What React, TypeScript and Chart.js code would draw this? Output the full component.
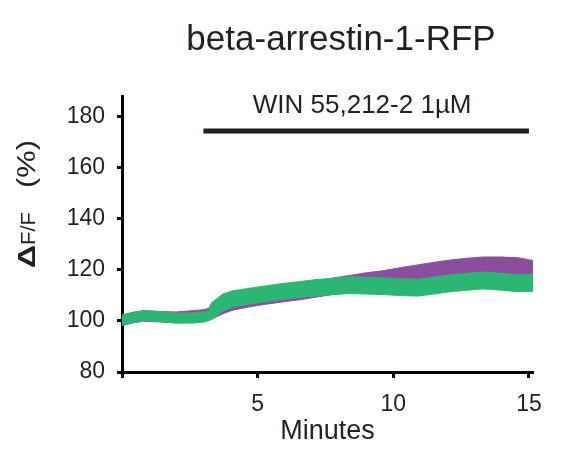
import React, { useEffect, useRef } from "react";
import { Chart, registerables } from "chart.js";

Chart.register(...registerables);

// ---- data (minutes, ΔF/F %) ----
const times = [0, 0.4, 0.8, 1.4, 2.0, 2.5, 3.0, 3.2, 3.3, 3.5, 3.7, 4.05, 4.65, 5.3, 5.9, 6.5, 7.1, 7.8, 8.4, 9.0, 9.6, 10.3, 10.9, 11.5, 12.1, 12.7, 13.3, 14.0, 14.6, 15.15];

const purpleMean = [100.1, 101.2, 101.9, 101.6, 101.5, 101.9, 102.4, 102.9, 103.6, 104.8, 105.8, 107.2, 108.5, 109.6, 110.5, 111.3, 112.3, 113.6, 114.6, 115.6, 116.4, 117.6, 118.6, 119.6, 120.5, 121.2, 121.7, 121.7, 121.4, 120.3];
const purpleSem = [2.0, 2.0, 2.0, 2.0, 2.0, 2.0, 2.0, 2.0, 3.0, 3.1, 3.1, 3.1, 3.1, 3.1, 3.1, 3.1, 3.1, 3.2, 3.2, 3.2, 3.2, 3.3, 3.3, 3.3, 3.3, 3.3, 3.3, 3.3, 3.3, 3.3];

const greenMean = [100.3, 101.4, 102.1, 101.7, 101.1, 101.1, 101.5, 102.1, 103.8, 105.4, 107.1, 108.5, 109.6, 110.6, 111.5, 112.2, 112.9, 113.5, 114.0, 113.8, 113.6, 113.2, 113.0, 113.8, 114.7, 115.3, 115.8, 115.3, 114.7, 114.9];
const greenSem = [2.0, 2.0, 2.0, 2.0, 2.0, 2.0, 2.0, 2.0, 3.3, 3.3, 3.3, 3.2, 3.1, 3.1, 3.1, 3.1, 3.2, 3.2, 3.3, 3.3, 3.3, 3.3, 3.3, 3.3, 3.3, 3.3, 3.3, 3.3, 3.3, 3.3];

const xTicks = [0, 5, 10, 15];
const yTicks = [80, 100, 120, 140, 160, 180];

const drugStart = 3;
const drugEnd = 15;
const drugLevel = 174.3;
const drugLabel = "WIN 55,212-2 1µM";
const chartTitle = "beta-arrestin-1-RFP";

const PURPLE = "#8B4E9D";
const GREEN = "#2BB673";
const INK = "#231F20";
const FONT = "'Liberation Sans', Arial, Helvetica, sans-serif";

function pts(mean: number[], sem: number[], sign: number) {
  return times.map((t, i) => ({ x: t, y: mean[i] + sign * sem[i] }));
}

function drawFit(ctx: CanvasRenderingContext2D, text: string, font: string, start: number, len: number) {
  ctx.font = font;
  const w = ctx.measureText(text).width;
  ctx.save();
  ctx.translate(start, 0);
  ctx.scale(len / w, 1);
  ctx.fillText(text, 0, 0);
  ctx.restore();
}

const annotate = {
  id: "annotate",
  afterDraw(chart: any) {
    const { ctx, scales } = chart;
    const x = scales.x;
    const y = scales.y;
    ctx.save();
    ctx.fillStyle = INK;

    // title
    ctx.font = `35px ${FONT}`;
    ctx.textAlign = "center";
    ctx.textBaseline = "alphabetic";
    ctx.fillText(chartTitle, 341, 50);

    // drug bar
    const x0 = x.getPixelForValue(drugStart);
    const x1 = x.getPixelForValue(drugEnd);
    const yb = y.getPixelForValue(drugLevel);
    ctx.fillRect(x0, yb - 2.5, x1 - x0, 5);

    ctx.font = `26px ${FONT}`;
    ctx.fillText(drugLabel, (x0 + x1) / 2 - 4, 113);

    // y title
    ctx.translate(35, 268);
    ctx.rotate(-Math.PI / 2);
    ctx.textAlign = "left";
    drawFit(ctx, "Δ", `bold 24px ${FONT}`, 0, 23);
    drawFit(ctx, "F/F", `21px ${FONT}`, 23, 33);
    drawFit(ctx, "(%)", `26px ${FONT}`, 80, 48);
    ctx.restore();
  },
};

export default function App() {
  const ref = useRef<HTMLCanvasElement | null>(null);

  useEffect(() => {
    document.body.style.margin = "0";
    const canvas = ref.current;
    if (!canvas) return;
    const chart = new Chart(canvas, {
      type: "line",
      data: {
        datasets: [
          {
            data: pts(greenMean, greenSem, 1),
            borderColor: GREEN,
            backgroundColor: GREEN,
            borderWidth: 1,
            pointRadius: 0,
            fill: "+1",
          },
          {
            data: pts(greenMean, greenSem, -1),
            borderColor: GREEN,
            backgroundColor: GREEN,
            borderWidth: 1,
            pointRadius: 0,
            fill: false,
          },
          {
            data: pts(purpleMean, purpleSem, 1),
            borderColor: PURPLE,
            backgroundColor: PURPLE,
            borderWidth: 1,
            pointRadius: 0,
            fill: "+1",
          },
          {
            data: pts(purpleMean, purpleSem, -1),
            borderColor: PURPLE,
            backgroundColor: PURPLE,
            borderWidth: 1,
            pointRadius: 0,
            fill: false,
          },
        ],
      },
      options: {
        responsive: false,
        animation: false,
        devicePixelRatio: 1,
        layout: { padding: { left: 62, top: 96, right: 31, bottom: 4 } },
        plugins: {
          legend: { display: false },
          tooltip: { enabled: false },
          title: { display: false },
        },
        scales: {
          x: {
            type: "linear",
            min: 0,
            max: 15.15,
            afterBuildTicks: (s: any) => {
              s.ticks = xTicks.map((v) => ({ value: v }));
            },
            afterFit: (s: any) => {
              s.height = 73;
            },
            ticks: {
              color: INK,
              font: { family: FONT, size: 23 },
              padding: 13,
              maxRotation: 0,
              callback: (v: any) => (v === 0 ? "" : String(v)),
            },
            grid: {
              drawOnChartArea: false,
              drawTicks: true,
              tickLength: 6,
              tickWidth: 3,
              tickColor: "#000",
            },
            border: { display: true, color: "#000", width: 3 },
            title: {
              display: true,
              text: "Minutes",
              color: INK,
              font: { family: FONT, size: 27, lineHeight: 1 },
              padding: 0,
            },
          },
          y: {
            type: "linear",
            min: 80,
            max: 188,
            afterBuildTicks: (s: any) => {
              s.ticks = yTicks.map((v) => ({ value: v }));
            },
            afterFit: (s: any) => {
              s.width = 60;
            },
            ticks: {
              color: INK,
              font: { family: FONT, size: 23 },
              padding: 12,
            },
            grid: {
              drawOnChartArea: false,
              drawTicks: true,
              tickLength: 5,
              tickWidth: 3,
              tickColor: "#000",
            },
            border: { display: true, color: "#000", width: 3 },
          },
        },
      },
      plugins: [annotate],
    } as any);
    return () => chart.destroy();
  }, []);

  return (
    <div style={{ width: 564, height: 449, background: "#fff" }}>
      <canvas ref={ref} width={564} height={449} />
    </div>
  );
}
